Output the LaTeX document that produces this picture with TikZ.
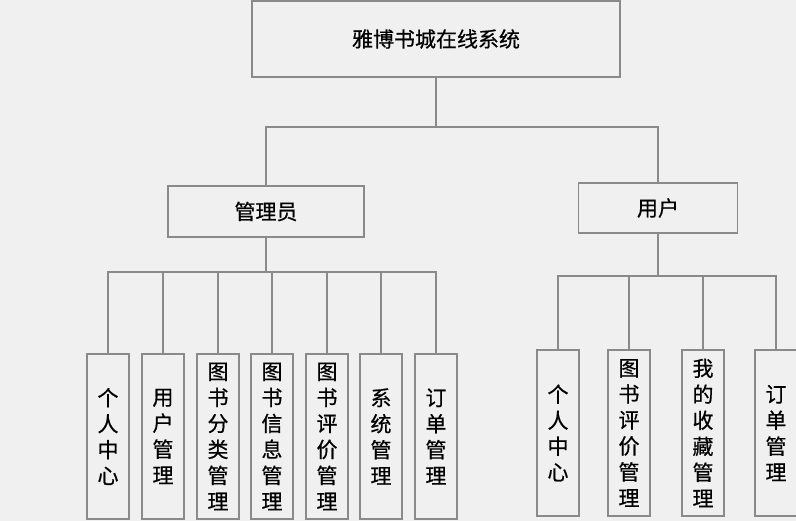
\documentclass[tikz,border=0pt]{standalone}
\usepackage{fontspec}
\newfontfamily\cjk[FakeBold=0.6]{Noto Sans CJK SC}
\definecolor{linegray}{HTML}{8A8A8A}
\definecolor{bggray}{HTML}{F0F0F0}
\tikzset{
	box/.style={draw=linegray, fill=bggray, line width=1.1pt, rectangle, inner sep=0pt, font=\cjk\fontsize{21}{26}\selectfont},
	leaf/.style={box, minimum width=42, minimum height=165, align=center},
	link/.style={draw=linegray, line width=1.1pt}
}

\begin{document}
\begin{tikzpicture}[x=1pt,y=-1pt]
	\fill[bggray] (0,0) rectangle (796,521);
	\useasboundingbox (0,0) rectangle (796,521);
	% top level
	\node [box, minimum width=368, minimum height=76] (sys) at (436,39) {雅博书城在线系统};
	\node [box, minimum width=196, minimum height=51] (admin) at (266,211.5) {管理员};
	\node [box, minimum width=159, minimum height=50] (user) at (658,208) {用户};
	% admin modules
	\node [leaf] (a1) at (108,436.5) {个\\人\\中\\心};
	\node [leaf] (a2) at (163,436.5) {用\\户\\管\\理};
	\node [leaf] (a3) at (218,436.5) {图\\书\\分\\类\\管\\理};
	\node [leaf] (a4) at (272,436.5) {图\\书\\信\\息\\管\\理};
	\node [leaf] (a5) at (327,436.5) {图\\书\\评\\价\\管\\理};
	\node [leaf] (a6) at (381,436.5) {系\\统\\管\\理};
	\node [leaf] (a7) at (436,436.5) {订\\单\\管\\理};
	% user modules
	\node [leaf, minimum height=166] (u1) at (558,433) {个\\人\\中\\心};
	\node [leaf, minimum height=166] (u2) at (629,433) {图\\书\\评\\价\\管\\理};
	\node [leaf, minimum height=166] (u3) at (703,433) {我\\的\\收\\藏\\管\\理};
	\node [leaf, minimum height=166] (u4) at (776,433) {订\\单\\管\\理};
	% connectors
	\coordinate (top) at (436,127);
	\coordinate (abus) at (266,272);
	\coordinate (ubus) at (658,276);
	\draw [link] (sys.south) -- (top);
	\draw [link] (top) -| (admin.north);
	\draw [link] (top) -| (user.north);
	\draw [link] (admin.south) -- (abus);
	\foreach \i in {1,...,7}
		\draw [link] (abus) -| (a\i.north);
	\draw [link] (user.south) -- (ubus);
	\foreach \i in {1,...,4}
		\draw [link] (ubus) -| (u\i.north);
\end{tikzpicture}
\end{document}
